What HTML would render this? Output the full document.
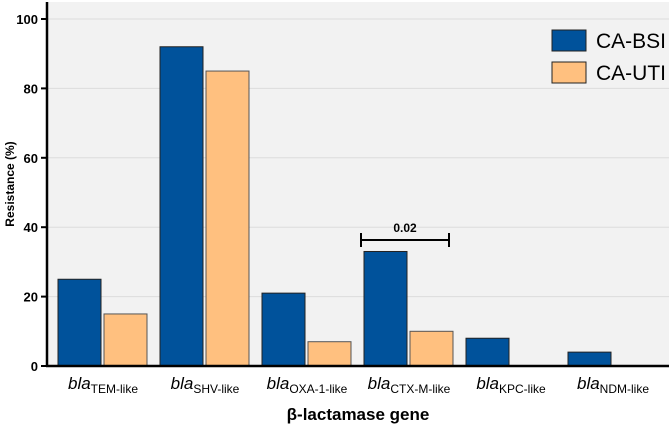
<!DOCTYPE html>
<html><head><meta charset="utf-8"><style>
body{margin:0;background:#fff;}
svg text{font-family:"Liberation Sans",Arial,sans-serif;}
</style></head><body>
<svg id="chart" width="669" height="426" viewBox="0 0 669 426">
<rect x="47" y="2" width="622" height="364" fill="#f2f2f2"/>
<g id="grid"></g><g id="bars"></g><g id="axes"></g>
<g>
<line x1="361" y1="240" x2="449" y2="240" stroke="#000" stroke-width="2"/>
<line x1="361" y1="233" x2="361" y2="247" stroke="#000" stroke-width="2"/>
<line x1="449" y1="233" x2="449" y2="247" stroke="#000" stroke-width="2"/>
<text x="405" y="232" text-anchor="middle" font-size="12" font-weight="bold">0.02</text>
</g>
<g>
<rect x="552" y="30" width="34" height="21" fill="#00529b" stroke="#222" stroke-width="1"/>
<text x="596" y="48" font-size="21">CA-BSI</text>
<rect x="552" y="62" width="34" height="21" fill="#ffc07f" stroke="#222" stroke-width="1"/>
<text x="596" y="80" font-size="21">CA-UTI</text>
</g>
<text transform="translate(14,184) rotate(-90)" text-anchor="middle" font-size="12" font-weight="bold">Resistance (%)</text>
<text x="358" y="420" text-anchor="middle" font-size="17" font-weight="bold">β-lactamase gene</text>
</svg>
<script>
const categories=["TEM-like","SHV-like","OXA-1-like","CTX-M-like","KPC-like","NDM-like"];
const bsiValues=[25,92,21,33,8,4];
const utiValues=[15,85,7,10,0,0];
const yTicks=[0,20,40,60,80,100];
const NS="http://www.w3.org/2000/svg";
const y=v=>366-v*3.47;
const xc=i=>103+i*102;
function mk(t,a,p){const e=document.createElementNS(NS,t);for(const k in a)e.setAttribute(k,a[k]);p.appendChild(e);return e;}
const grid=document.getElementById('grid'),bars=document.getElementById('bars'),axes=document.getElementById('axes');
yTicks.forEach(t=>{
 if(t>0){const g=mk('line',{x1:47,x2:669,y1:y(t),y2:y(t),stroke:'#dcdcdc','stroke-width':1},grid);
 
 }
 const tk=mk('line',{x1:41,x2:47,y1:y(t),y2:y(t),stroke:'#000','stroke-width':2},axes);
 
 
 const l=mk('text',{x:38,y:y(t)+5,'text-anchor':'end','font-size':13,'font-weight':'bold'},axes);l.textContent=t;
 
 
});
categories.forEach((c,i)=>{
 const b=mk('rect',{x:xc(i)-45,y:y(bsiValues[i]),width:43,height:366-y(bsiValues[i]),fill:'#00529b',stroke:'#222','stroke-width':1},bars);
 
 
 if(utiValues[i]>0){const u=mk('rect',{x:xc(i)+1,y:y(utiValues[i]),width:43,height:366-y(utiValues[i]),fill:'#ffc07f',stroke:'#555','stroke-width':1},bars);
 
 }
 const t=mk('text',{x:xc(i),y:389,'text-anchor':'middle','font-size':17},axes);
 
 
 const s1=mk('tspan',{'font-style':'italic'},t);s1.textContent='bla';
 const s2=mk('tspan',{'font-size':12,dy:4},t);s2.textContent=c;
});
const ya=mk('line',{x1:47,x2:47,y1:2,y2:367,stroke:'#000','stroke-width':2.5},axes);


const xa=mk('line',{x1:46,x2:669,y1:366,y2:366,stroke:'#000','stroke-width':2.5},axes);


</script>
</body></html>
